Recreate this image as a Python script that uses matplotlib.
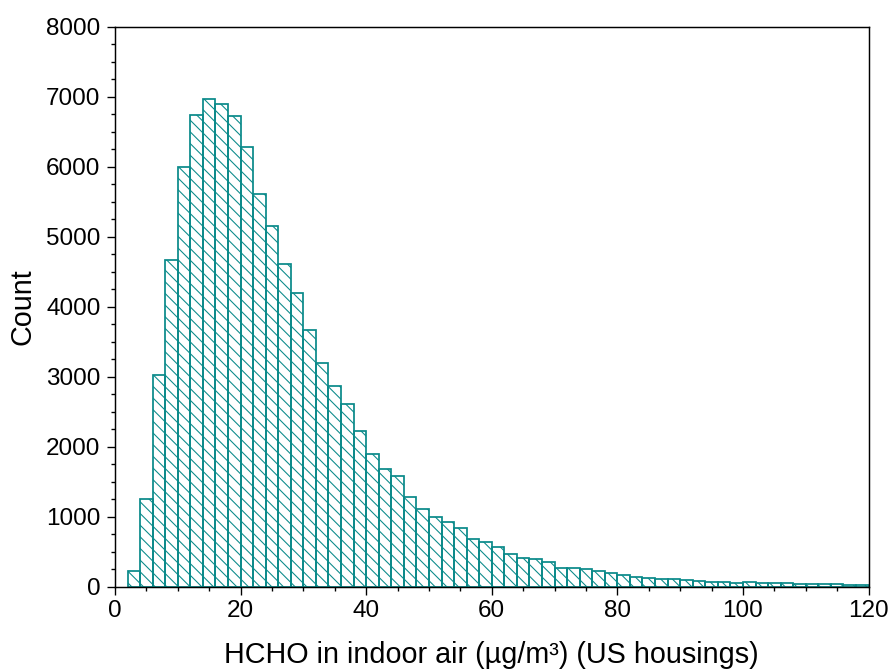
import matplotlib
matplotlib.use('Agg')
import matplotlib.pyplot as plt
from matplotlib.ticker import MultipleLocator

# histogram of HCHO concentrations, 2 ug/m3 bins from 2 to 120
bin_left = list(range(2, 120, 2))
counts = [220, 1250, 3030, 4670, 6000, 6740, 6970, 6890, 6720, 6280,
          5610, 5150, 4610, 4190, 3670, 3200, 2865, 2615, 2230, 1900,
          1685, 1580, 1285, 1115, 995, 925, 845, 686, 636, 570,
          474, 414, 400, 360, 274, 268, 260, 229, 203, 174,
          141, 129, 115, 105, 90, 85, 65, 68, 50, 71,
          58, 48, 50, 38, 38, 40, 36, 29, 22]
x_ticks = [0, 20, 40, 60, 80, 100, 120]
y_ticks = [0, 1000, 2000, 3000, 4000, 5000, 6000, 7000, 8000]

teal = '#0A8A8A'
plt.rcParams['font.family'] = ['Liberation Sans', 'DejaVu Sans']
plt.rcParams['hatch.linewidth'] = 0.55
plt.rcParams['hatch.color'] = teal

fig = plt.figure(figsize=(892 / 140, 670 / 140), dpi=140)
ax = fig.add_axes([0.1289, 0.1243, 0.9737 - 0.1289, 0.9601 - 0.1243])

ax.bar(bin_left, counts, width=2, align='edge', fill=False,
       edgecolor=teal, linewidth=0.9, hatch='\\\\\\\\')

ax.set_xlim(0, 120)
ax.set_ylim(0, 8000)
ax.set_xticks(x_ticks)
ax.set_yticks(y_ticks)
ax.xaxis.set_minor_locator(MultipleLocator(5))
ax.yaxis.set_minor_locator(MultipleLocator(250))
ax.tick_params(which='major', direction='out', length=4.1, width=0.7,
               labelsize=12.5, pad=2.5)
ax.tick_params(which='minor', direction='out', length=2.1, width=0.7)
ax.tick_params(axis='y', which='major', pad=3.4)
for s in ax.spines.values():
    s.set_linewidth(0.75)

ax.set_xlabel('HCHO in indoor air (µg/m³) (US housings)', fontsize=14.8, labelpad=10)
ax.set_ylabel('Count', fontsize=14.8, labelpad=5)

fig.savefig('out.png', dpi=140)
